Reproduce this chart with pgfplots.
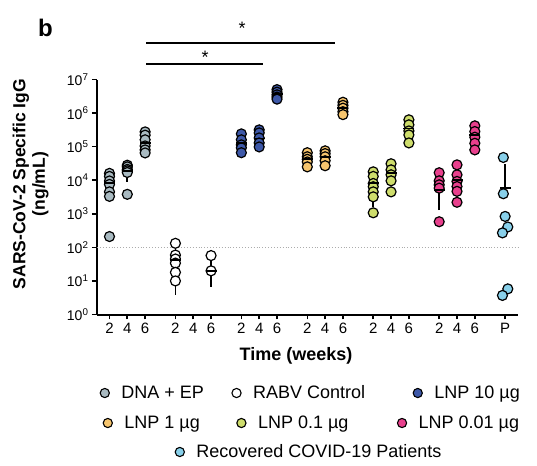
\documentclass[border=0pt]{standalone}
\usepackage{pgfplots}
\pgfplotsset{compat=1.18}
\usepackage{pgfplotstable}
\usepackage{fontspec}
\setmainfont{Liberation Sans}

\definecolor{cdna}{HTML}{A9BAC1}
\definecolor{cl10}{HTML}{3D58A8}
\definecolor{cl1}{HTML}{F6C56E}
\definecolor{cl01}{HTML}{CEDD6C}
\definecolor{cl001}{HTML}{E8408D}
\definecolor{cpat}{HTML}{88D0EA}

% ---------- individual points ----------
\pgfplotstableread{
x y
0 16000
0 13000
0 9500
0 7500
0 4500
0 3300
0 210
1 28000
1 25000
1 21000
1 19000
1 17000
1 3800
2 275000
2 220000
2 160000
2 105000
2 80000
2 65000
}\tdna
\pgfplotstableread{
x y
3.7 132
3.7 59
3.7 45
3.7 34
3.7 18
3.7 10
5.7 57
5.7 20
}\trabv
\pgfplotstableread{
x y
7.4 240000
7.4 160000
7.4 113000
7.4 92000
7.4 66000
8.4 316000
8.4 257000
8.4 182000
8.4 129000
8.4 98000
9.4 5000000
9.4 4200000
9.4 3500000
9.4 3000000
9.4 2600000
}\tlten
\pgfplotstableread{
x y
11.1 66000
11.1 50000
11.1 42000
11.1 35000
11.1 25000
12.1 75000
12.1 62000
12.1 50000
12.1 38000
12.1 27000
13.1 2100000
13.1 1700000
13.1 1400000
13.1 1100000
13.1 900000
}\tlone
\pgfplotstableread{
x y
14.8 17800
14.8 13000
14.8 8000
14.8 6400
14.8 4500
14.8 3200
14.8 1070
15.8 31000
15.8 20400
15.8 14500
15.8 9600
15.8 4500
16.8 630000
16.8 447000
16.8 294000
16.8 224000
16.8 129000
}\tlpone
\pgfplotstableread{
x y
18.5 16700
18.5 9600
18.5 7300
18.5 5800
18.5 580
19.5 28700
19.5 14500
19.5 9200
19.5 6500
19.5 4660
19.5 2200
20.5 417000
20.5 282000
20.5 191000
20.5 126000
20.5 80000
}\tlpzone
\pgfplotstableread{
x y
22.1 47600
22.1 3960
22.2 835
22.35 405
22.05 270
22.35 5.8
22.05 3.7
}\tpat

% ---------- means and error bars ----------
\pgfplotstableread{
x y ep em
0 8400 3400 2500
1 19000 6000 6400
2 129000 55000 45000
}\mdna
\pgfplotstableread{
x y ep em
3.7 42 33 36.5
5.7 20 8 10.5
}\mrabv
\pgfplotstableread{
x y ep em
7.4 125000 30000 30000
8.4 175000 45000 45000
9.4 3660000 450000 450000
}\mlten
\pgfplotstableread{
x y ep em
11.1 43600 7000 7000
12.1 50400 8400 8400
13.1 1440000 210000 210000
}\mlone
\pgfplotstableread{
x y ep em
14.8 8400 6100 6100
15.8 16000 5000 5000
16.8 345000 88000 88000
}\mlpone
\pgfplotstableread{
x y ep em
18.5 5200 3400 3400
19.5 10000 4000 4000
20.5 220000 60000 60000
}\mlpzone
\pgfplotstableread{
x y ep em
22.2 6000 15400 0
}\mpat

\pgfplotsset{
  pts/.style={only marks, mark=*, mark size=5pt,
    mark options={draw=black, line width=1.2pt, fill=#1}},
  meanbar/.style={only marks, mark=-, mark size=5.5pt,
    mark options={line width=1.8pt, black},
    error bars/y dir=both, error bars/y explicit,
    error bars/error bar style={line width=1.8pt, black},
    error bars/error mark options={mark size=5pt, line width=1.8pt, black}},
  legm/.style={mark=*, mark size=4.6pt, mark options={draw=black, line width=1.1pt, fill=#1}},
  legax/.style={at={(0pt,-465pt)}, anchor=south west, scale only axis,
    width=537pt, height=465pt, hide axis, xmin=0, xmax=1, ymin=0, ymax=1,
    legend image code/.code={\draw[##1] plot coordinates {(0pt,0pt)};},
    legend style={anchor=west, draw=none, fill=none, inner sep=0pt,
      font=\fontsize{18}{18}\selectfont, nodes={inner sep=0pt},
      /tikz/every odd column/.append style={column sep=12pt}}},
}

\begin{document}
\begin{tikzpicture}
\begin{axis}[
  at={(97pt,-314.5pt)}, anchor=south west,
  scale only axis, width=420.6pt, height=235pt,
  xmin=-0.7, xmax=22.9,
  ymode=log, ymin=1, ymax=1e7,
  axis x line*=bottom, axis y line*=left,
  xtick pos=bottom, ytick pos=left,
  axis line style={line width=2pt, black, -},
  tick align=outside, major tick length=5pt,
  tick style={line width=1.6pt, black},
  yminorticks=false, xminorticks=false,
  xtick={0,1,2,3.7,4.7,5.7,7.4,8.4,9.4,11.1,12.1,13.1,14.8,15.8,16.8,18.5,19.5,20.5,22.2},
  xticklabels={2,4,6,2,4,6,2,4,6,2,4,6,2,4,6,2,4,6,P},
  xticklabel style={font=\fontsize{15}{15}\selectfont},
  ytick={1,10,100,1000,10000,100000,1000000,10000000},
  yticklabels={10\textsuperscript{0},10\textsuperscript{1},10\textsuperscript{2},10\textsuperscript{3},10\textsuperscript{4},10\textsuperscript{5},10\textsuperscript{6},10\textsuperscript{7}},
  yticklabel style={font=\fontsize{14}{14}\selectfont},
  xlabel={Time (weeks)},
  ylabel={SARS-CoV-2 Specific IgG\\(ng/mL)},
  every axis x label/.style={at={(axis description cs:0.473,-0.177)}, anchor=center, font=\bfseries\fontsize{18}{18}\selectfont},
  every axis y label/.style={at={(axis description cs:-0.158,0.555)}, rotate=90, anchor=center, align=center, font=\bfseries\fontsize{17.5}{19.5}\selectfont},
  clip=false,
]
\addplot[gray!65, dotted, line width=0.9pt, forget plot] coordinates {(-0.7,100) (22.9,100)};

\addplot[pts=cdna] table {\tdna};
\addplot[meanbar] table[y error plus=ep, y error minus=em] {\mdna};
\addplot[pts=white] table {\trabv};
\addplot[meanbar] table[y error plus=ep, y error minus=em] {\mrabv};
\addplot[pts=cl10] table {\tlten};
\addplot[meanbar] table[y error plus=ep, y error minus=em] {\mlten};
\addplot[pts=cl1] table {\tlone};
\addplot[meanbar] table[y error plus=ep, y error minus=em] {\mlone};
\addplot[pts=cl01] table {\tlpone};
\addplot[meanbar] table[y error plus=ep, y error minus=em] {\mlpone};
\addplot[pts=cl001] table {\tlpzone};
\addplot[meanbar] table[y error plus=ep, y error minus=em] {\mlpzone};
\addplot[pts=cpat] table {\tpat};
\addplot[meanbar, /pgfplots/error bars/y dir=plus] table[y error plus=ep, y error minus=em] {\mpat};
\end{axis}

% legend rows
\begin{axis}[legax, legend columns=3, legend style={at={(0.1862,0.1548)}}]
\addlegendimage{legm=cdna}\addlegendentry{DNA + EP\rule{28pt}{0pt}}
\addlegendimage{legm=white}\addlegendentry{RABV Control\rule{48pt}{0pt}}
\addlegendimage{legm=cl10}\addlegendentry{LNP 10 µg}
\end{axis}
\begin{axis}[legax, legend columns=3, legend style={at={(0.1918,0.0903)}}]
\addlegendimage{legm=cl1}\addlegendentry{LNP 1 µg\rule{37pt}{0pt}}
\addlegendimage{legm=cl01}\addlegendentry{LNP 0.1 µg\rule{49pt}{0pt}}
\addlegendimage{legm=cl001}\addlegendentry{LNP 0.01 µg}
\end{axis}
\begin{axis}[legax, legend columns=1, legend style={at={(0.3259,0.0280)}}]
\addlegendimage{legm=cpat}\addlegendentry{Recovered COVID-19 Patients}
\end{axis}

% panel letter and significance annotations
\node[anchor=base west, inner sep=0pt, font=\bfseries\fontsize{24}{24}\selectfont] at (38pt,-37pt) {b};
\draw[line width=2.3pt] (146pt,-42.7pt) -- (335pt,-42.7pt);
\draw[line width=2.3pt] (146pt,-64.3pt) -- (263pt,-64.3pt);
\node[anchor=base, inner sep=0pt, font=\fontsize{18}{18}\selectfont] at (242pt,-35pt) {*};
\node[anchor=base, inner sep=0pt, font=\fontsize{18}{18}\selectfont] at (205pt,-64pt) {*};

\pgfresetboundingbox
\useasboundingbox (0pt,0pt) rectangle (537pt,-465pt);
\end{tikzpicture}
\end{document}
